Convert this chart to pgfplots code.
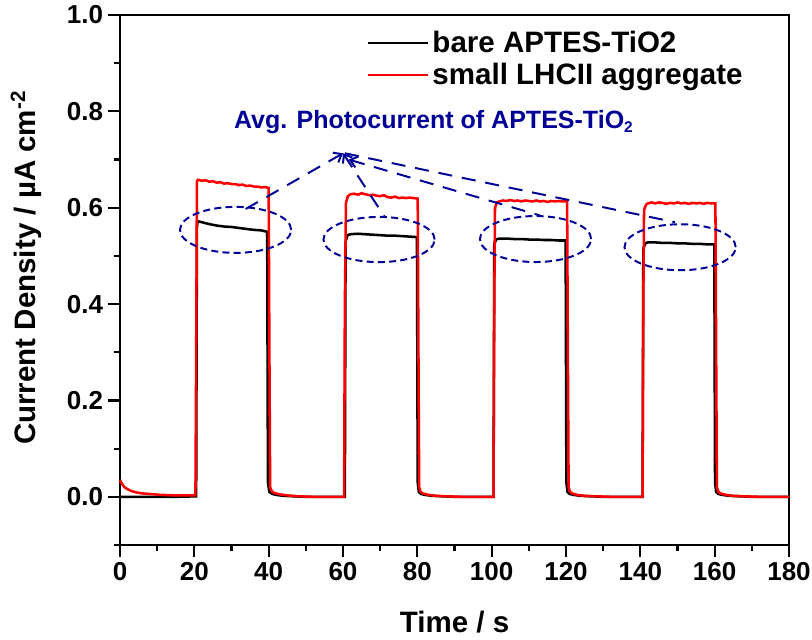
\documentclass[border=0pt]{standalone}
\usepackage{fontspec}
\setmainfont{Liberation Sans}
\usepackage{pgfplots}
\pgfplotsset{compat=1.18}
\usetikzlibrary{arrows.meta}
\definecolor{navy}{RGB}{0,0,150}

\pgfplotstableread{
t j
0 0.000
5 0.000
10 0.000
15 0.000
20.5 0.001
20.7 0.560
20.9 0.572
22 0.570
24 0.566
26 0.563
28 0.561
30 0.560
32 0.558
34 0.556
36 0.554
38 0.553
39.6 0.550
39.8 0.030
40.2 0.010
41 0.006
42 0.004
44 0.002
47 0.001
50 0.000
60.5 0.000
60.7 0.530
61.2 0.543
62 0.545
64 0.546
66 0.545
68 0.544
70 0.543
72 0.542
74 0.542
76 0.541
78 0.540
79.9 0.539
80.1 0.030
80.4 0.010
81 0.006
82 0.004
84 0.002
87 0.001
90 0.000
100.5 0.000
100.7 0.525
101.2 0.534
102 0.536
104 0.536
106 0.535
108 0.535
110 0.534
112 0.534
114 0.533
116 0.533
118 0.532
119.9 0.532
120.1 0.030
120.4 0.010
121 0.006
122 0.004
124 0.002
127 0.001
130 0.000
140.6 0.000
140.8 0.515
141.3 0.526
142 0.528
144 0.528
146 0.527
148 0.527
150 0.526
152 0.526
154 0.525
156 0.525
158 0.524
159.9 0.524
160.1 0.030
160.4 0.010
161 0.006
162 0.004
164 0.002
167 0.001
170 0.000
180 0.000
}\bare

\pgfplotstableread{
t j
0 0.035
0.3 0.030
0.7 0.025
1.2 0.020
2 0.016
3 0.012
4.5 0.009
6 0.007
8 0.006
11 0.004
15 0.003
20.3 0.003
20.5 0.300
20.7 0.655
21 0.658
22 0.656
23 0.657
24 0.654
25 0.655
26 0.652
27 0.653
28 0.650
29 0.651
30 0.649
31 0.649
32 0.647
33 0.648
34 0.645
35 0.646
36 0.644
37 0.644
38 0.642
39 0.643
40.0 0.641
40.2 0.300
40.4 0.020
40.8 0.012
41.5 0.008
43 0.005
45 0.003
48 0.001
52 0.000
60.3 0.000
60.5 0.400
60.8 0.610
61.3 0.624
62 0.628
63 0.629
64 0.627
65 0.630
66 0.628
67 0.626
68 0.627
69 0.625
70 0.624
71 0.626
72 0.622
73 0.621
74 0.623
75 0.620
76 0.621
77 0.620
78 0.621
79 0.620
80.1 0.619
80.3 0.300
80.5 0.020
80.9 0.010
81.5 0.007
83 0.004
85 0.002
88 0.001
92 0.000
100.5 0.000
100.7 0.400
100.9 0.600
101.4 0.611
102 0.613
103 0.615
104 0.614
105 0.616
106 0.614
107 0.615
108 0.613
109 0.615
110 0.614
111 0.613
112 0.615
113 0.613
114 0.614
115 0.612
116 0.614
117 0.613
118 0.614
119 0.613
120.3 0.613
120.5 0.300
120.7 0.020
121.1 0.010
121.7 0.007
123 0.004
125 0.002
128 0.001
132 0.000
140.6 0.000
140.8 0.400
141.0 0.595
141.5 0.606
142 0.609
143 0.611
144 0.609
145 0.611
146 0.610
147 0.608
148 0.610
149 0.609
150 0.611
151 0.609
152 0.610
153 0.608
154 0.610
155 0.609
156 0.610
157 0.608
158 0.610
159 0.609
160.2 0.609
160.4 0.300
160.6 0.020
161 0.010
161.6 0.007
163 0.004
165 0.002
168 0.001
172 0.000
180 0.000
}\lhc

\begin{document}
\begin{tikzpicture}
\begin{axis}[
  scale only axis, width=16.725cm, height=13.25cm,
  xmin=0, xmax=180, ymin=-0.1, ymax=1.0,
  xtick={0,20,...,180}, minor x tick num=1,
  ytick={0,0.2,...,1.0}, minor ytick={-0.1,0.1,0.3,0.5,0.7,0.9},
  tick align=outside, tickpos=left,
  major tick length=0.3cm, minor tick length=0.15cm,
  axis line style={line width=1.6pt},
  every tick/.style={line width=1.6pt, black},
  tick label style={font=\fontsize{18.5}{21}\selectfont\bfseries},
  /pgf/number format/assume math mode=true,
  yticklabel style={/pgf/number format/.cd, fixed, fixed zerofill, precision=1},
  xlabel={Time / s}, ylabel={Current Density / µA cm\textsuperscript{-2}},
  label style={font=\fontsize{21}{24}\selectfont\bfseries},
  xlabel style={at={(axis description cs:0.5,-0.145)}, anchor=center},
  ylabel style={at={(axis description cs:-0.14,0.523)}, anchor=center},
  legend style={draw=none, fill=none, at={(axis description cs:0.369,0.975)}, anchor=north west,
    font=\fontsize{21}{22}\selectfont\bfseries, inner sep=0pt, row sep=2pt},
  legend cell align=left,
  legend image code/.code={\draw[#1] (0cm,0cm) -- (1.5cm,0cm);},
  clip=false,
]
\addplot[black, line width=1.8pt] table[x=t, y=j] {\bare};
\addlegendentry{bare APTES-TiO2}
\addplot[red, line width=1.8pt] table[x=t, y=j] {\lhc};
\addlegendentry{small LHCII aggregate}

\node[anchor=base west, text=navy, font=\fontsize{17.8}{20}\selectfont\bfseries, inner sep=0pt]
  at (axis cs:30.6,0.765) {Avg. Photocurrent of APTES-TiO\raisebox{-0.35ex}{\fontsize{11}{12}\selectfont 2}};

\begin{scope}[navy, line width=1.4pt, dash pattern=on 5pt off 3pt]
\draw (axis cs:31.1,0.554) ellipse [x radius=1.39cm, y radius=0.575cm];
\draw (axis cs:69.7,0.534) ellipse [x radius=1.39cm, y radius=0.565cm];
\draw (axis cs:111.8,0.535) ellipse [x radius=1.39cm, y radius=0.575cm];
\draw (axis cs:150.7,0.518) ellipse [x radius=1.39cm, y radius=0.575cm];
\end{scope}
\begin{scope}[navy, line width=1.4pt, dash pattern=on 10pt off 7pt]
\draw[{Straight Barb[length=5pt,width=8pt]}-] (axis cs:60.0,0.713) -- (axis cs:32.8,0.593);
\draw[{Straight Barb[length=5pt,width=8pt]}-] (axis cs:60.0,0.713) -- (axis cs:71.3,0.580);
\draw[{Straight Barb[length=5pt,width=8pt]}-] (axis cs:61.5,0.700) -- (axis cs:113.0,0.584);
\draw (axis cs:60.5,0.713) -- (axis cs:149.3,0.570);
\end{scope}
\end{axis}
\pgfresetboundingbox
\path (-3cm,-2.375cm) rectangle (17.3cm,13.625cm);
\end{tikzpicture}
\end{document}
